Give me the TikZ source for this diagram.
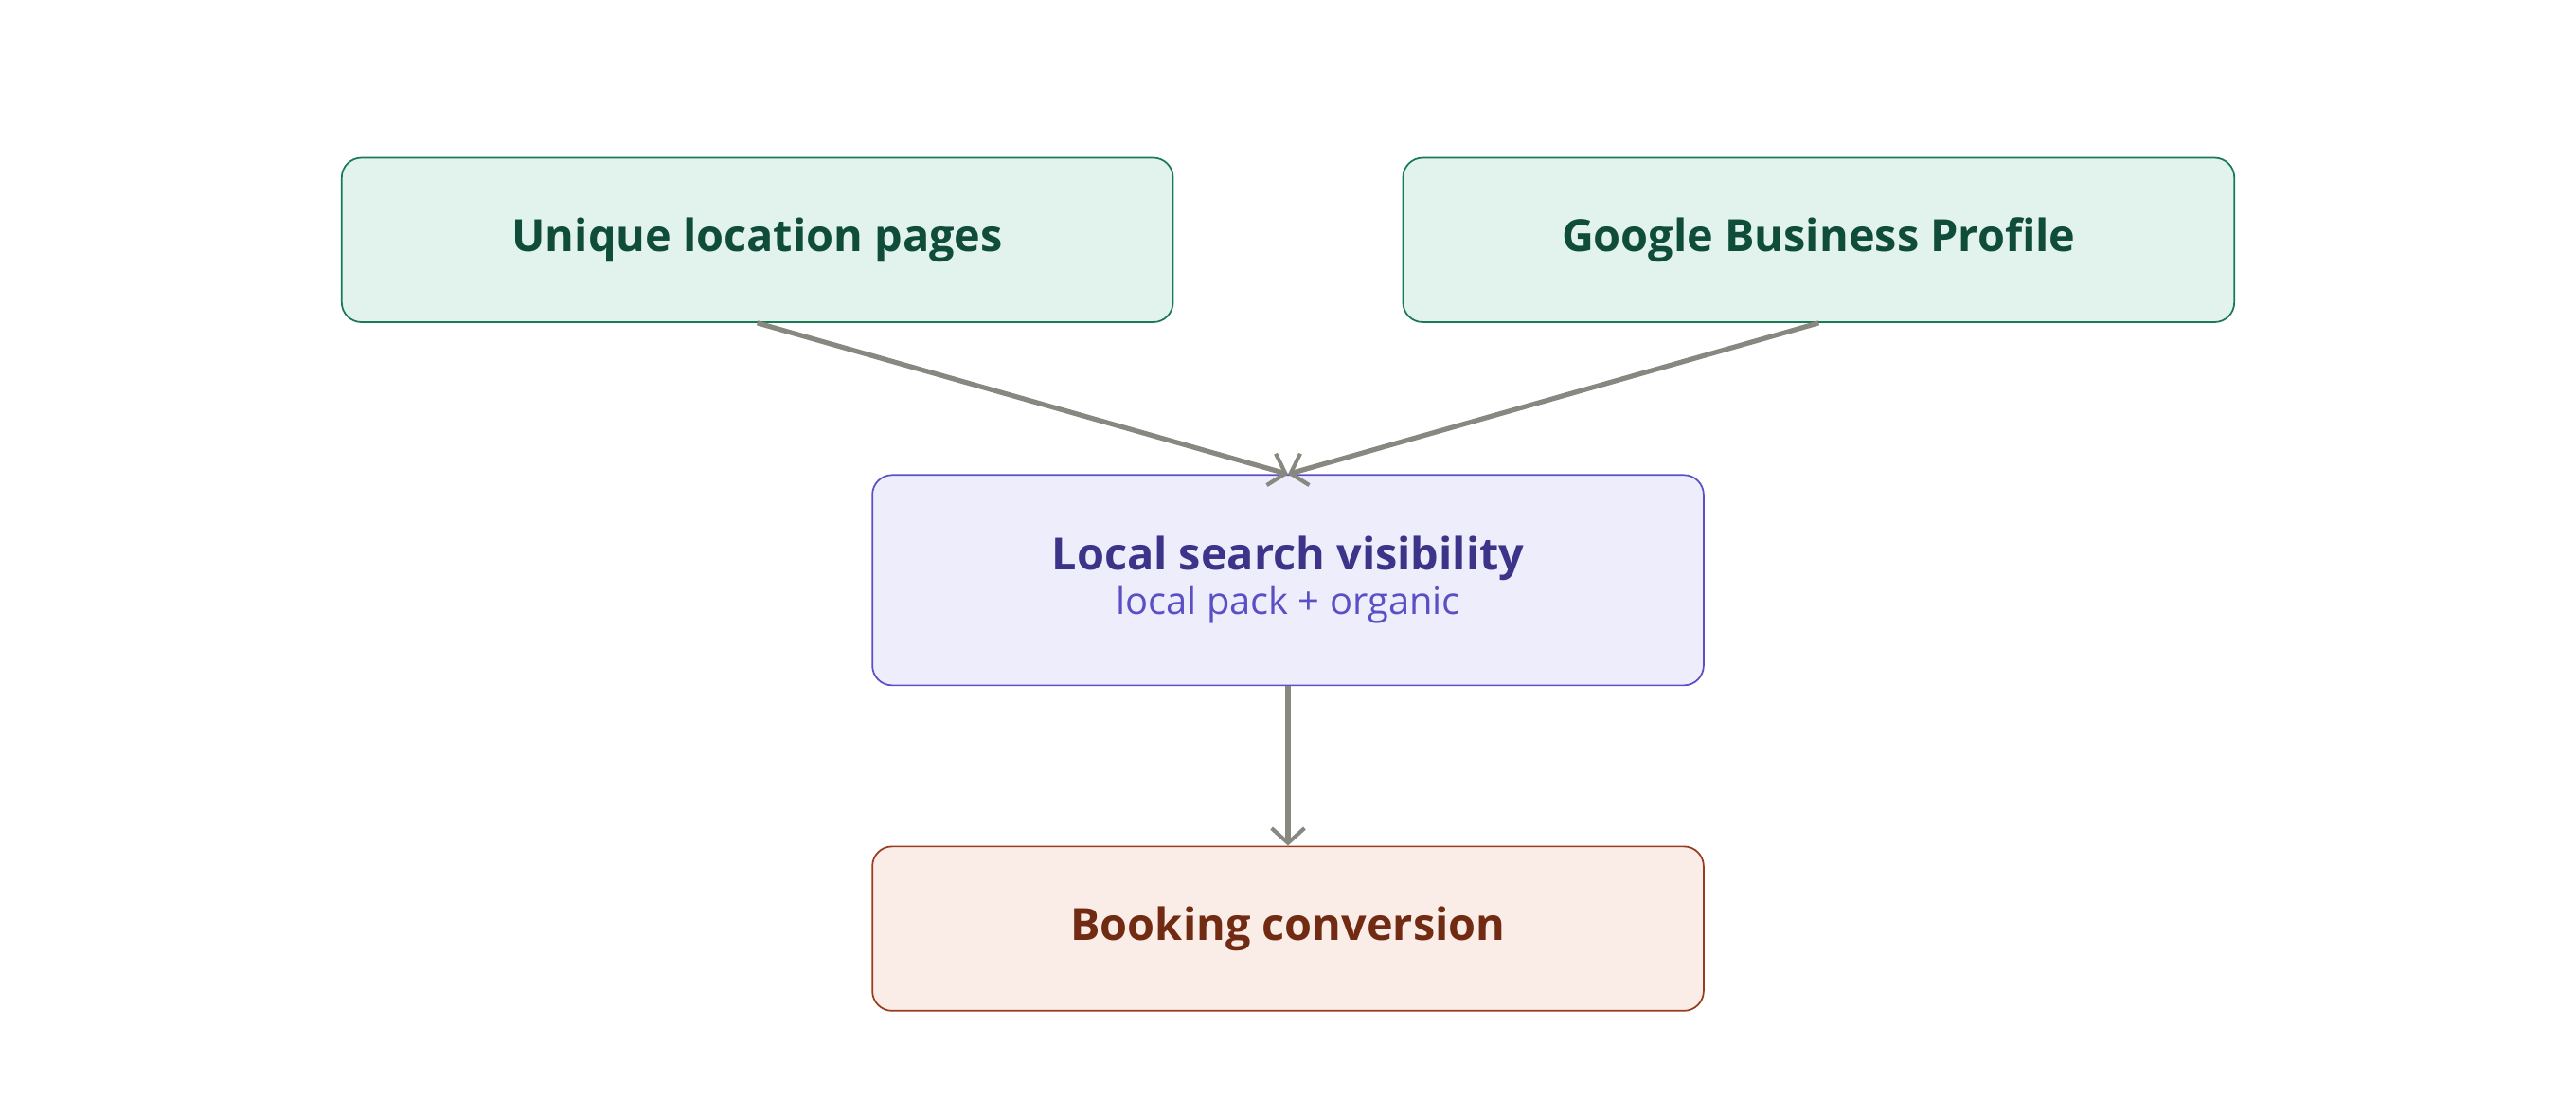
\documentclass[tikz,border=0pt]{standalone}
\usepackage{fontspec}
\setmainfont{Open Sans}
\usetikzlibrary{arrows.meta}
\definecolor{gfill}{HTML}{E1F3EC}\definecolor{gline}{HTML}{1A7A55}\definecolor{gtext}{HTML}{0F4D3A}
\definecolor{pfill}{HTML}{EEEDFC}\definecolor{pline}{HTML}{5A4FC4}\definecolor{ptext}{HTML}{3C3489}
\definecolor{ofill}{HTML}{FAECE7}\definecolor{oline}{HTML}{993C1D}\definecolor{otext}{HTML}{712B13}
\definecolor{arr}{HTML}{888780}
\begin{document}
\begin{tikzpicture}[x=1pt,y=-1pt,
 box/.style={rounded corners=12pt,line width=1pt,minimum width=506pt,align=center,inner sep=0pt},
 title/.style={font=\fontsize{27}{32}\selectfont\bfseries},
 conn/.style={draw=arr,line width=3pt,-{Straight Barb[length=9pt,width=20pt,line width=2.4pt]}}]
\useasboundingbox (0,0) rectangle (1568,669);
\node[box,fill=gfill,draw=gline,minimum height=100pt,title,text=gtext] (a) at (461,146) {Unique location pages};
\node[box,fill=gfill,draw=gline,minimum height=100pt,title,text=gtext] (b) at (1107,146) {Google Business Profile};
\node[box,fill=pfill,draw=pline,minimum height=128pt,text=ptext] (c) at (784,353) {{\fontsize{27}{32}\selectfont\bfseries Local search visibility}\\[2pt]{\fontsize{23}{28}\selectfont\color{pline}local pack + organic}};
\node[box,fill=ofill,draw=oline,minimum height=100pt,title,text=otext] (d) at (784,565) {Booking conversion};
\draw[conn] (a.south) -- (c.north);
\draw[conn] (b.south) -- (c.north);
\draw[conn] (c.south) -- (d.north);
\end{tikzpicture}
\end{document}
